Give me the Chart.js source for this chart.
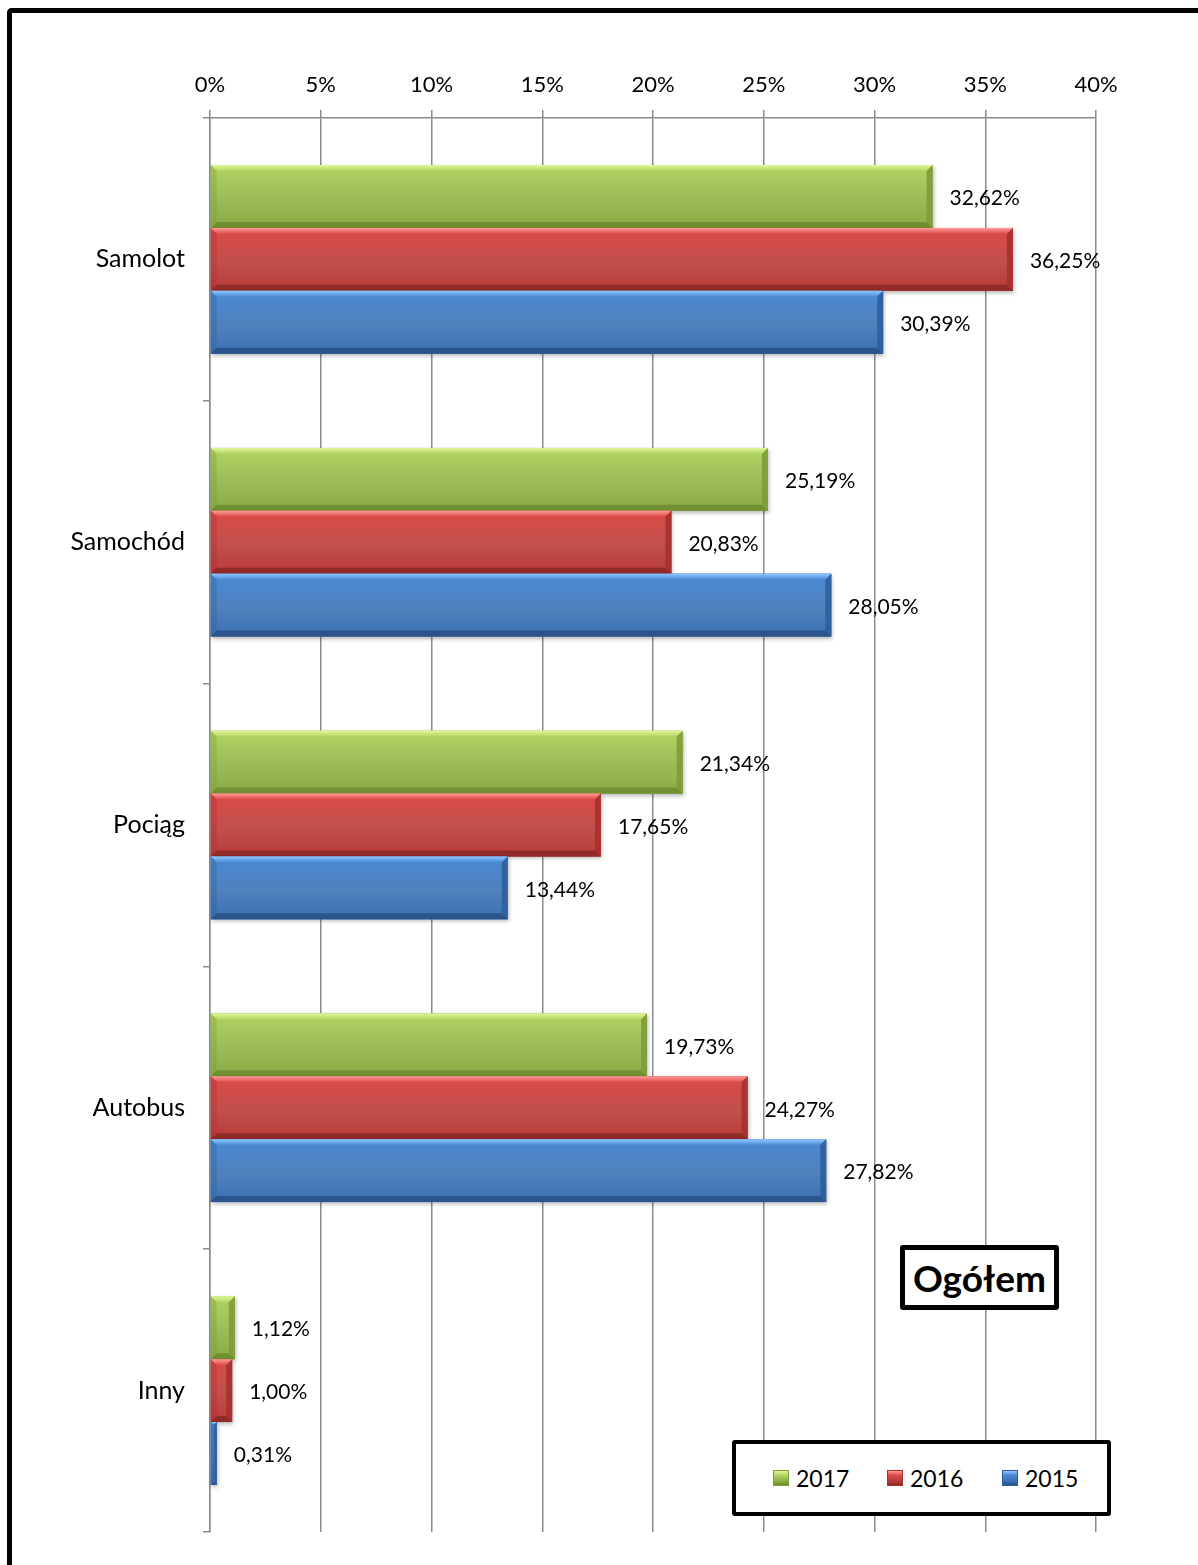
<!DOCTYPE html>
<html>
<head>
<meta charset="utf-8">
<script src="https://cdn.jsdelivr.net/npm/chart.js@4/dist/chart.umd.min.js"></script>
<style>
  html, body { margin: 0; padding: 0; background: #fff; overflow: hidden; }
  #wrap { position: relative; width: 1198px; height: 1565px; overflow: hidden; }
  #frame { position: absolute; left: 7px; top: 8px; width: 1300px; height: 1700px;
           border-left: 5px solid #000; border-top: 5px solid #000; border-radius: 5px 0 0 0; box-sizing: border-box; }
  canvas { position: absolute; left: 0; top: 0; }
  #title { position: absolute; left: 900px; top: 1245px; width: 159px; height: 65px; box-sizing: border-box;
           border: 5px solid #000; border-radius: 3px; background: #fff;
           font-family: Lato, "Open Sans", sans-serif; font-weight: bold; font-size: 37px; color: #000;
           display: flex; align-items: center; justify-content: center; }
  #legend { position: absolute; left: 732px; top: 1440px; width: 379px; height: 76px; box-sizing: border-box;
            border: 4px solid #000; border-radius: 3px; background: #fff;
            font-family: Lato, "Open Sans", sans-serif; font-size: 23px; color: #000; }
  .item { position: absolute; top: 0; height: 68px; display: flex; align-items: center; }
  .sw { width: 16px; height: 16px; margin-right: 7px; box-sizing: border-box; }
</style>
</head>
<body>
<div id="wrap">
  <canvas id="c" width="1198" height="1565"></canvas>
  <div id="frame"></div>
  <div id="title">Ogółem</div>
  <div id="legend"></div>
</div>
<script>
// ---- data ----
const categories = ['Samolot', 'Samochód', 'Pociąg', 'Autobus', 'Inny'];
const seriesNames = ['2017', '2016', '2015'];
const values2017 = [32.62, 25.19, 21.34, 19.73, 1.12];
const values2016 = [36.25, 20.83, 17.65, 24.27, 1.00];
const values2015 = [30.39, 28.05, 13.44, 27.82, 0.31];
const axisMin = 0, axisMax = 40, axisStep = 5;

// ---- styles ----
const palettes = [
  { mid: '#9bbb59', light: '#e2f79a', top: '#b2d460', bottom: '#8aab42', dark: '#6c8a30', side: '#7e9c3a' },
  { mid: '#c0504d', light: '#ff9c9a', top: '#dc4a47', bottom: '#b83a37', dark: '#8a2826', side: '#a5312f' },
  { mid: '#4f81bd', light: '#90c8ff', top: '#4a8ad6', bottom: '#3a70b3', dark: '#284f82', side: '#2f5f9c' }
];
const FONT = 'Lato, "Open Sans", sans-serif';

const seriesValues = [values2017, values2016, values2015];

// legend
const legend = document.getElementById('legend');
const legendX = [37, 151, 266];
seriesNames.forEach((n, i) => {
  const p = palettes[i];
  const it = document.createElement('div');
  it.className = 'item';
  it.style.left = legendX[i] + 'px';
  const sw = document.createElement('div');
  sw.className = 'sw';
  sw.style.background = `linear-gradient(to bottom, ${p.light} 0%, ${p.top} 30%, ${p.bottom} 75%, ${p.dark} 100%)`;
  sw.style.border = '1px solid ' + p.side;
  it.appendChild(sw);
  const t = document.createElement('span');
  t.textContent = n;
  it.appendChild(t);
  legend.appendChild(it);
});

const bevelPlugin = {
  id: 'bevel',
  afterDatasetsDraw(chart) {
    const ctx = chart.ctx;
    ctx.save();
    chart.data.datasets.forEach((ds, di) => {
      const meta = chart.getDatasetMeta(di);
      const p = palettes[di];
      meta.data.forEach((el) => {
        const pr = el.getProps(['x', 'y', 'base', 'height'], true);
        const x0 = Math.min(pr.base, pr.x), x1 = Math.max(pr.base, pr.x);
        const y0 = pr.y - pr.height / 2, y1 = pr.y + pr.height / 2;
        const w = x1 - x0, h = y1 - y0;
        if (w <= 0) return;
        const b = Math.min(6, w / 2, h / 2);
        ctx.save();
        ctx.shadowColor = 'rgba(0,0,0,0.28)';
        ctx.shadowBlur = 4;
        ctx.shadowOffsetX = 1;
        ctx.shadowOffsetY = 2;
        const g = ctx.createLinearGradient(0, y0, 0, y1);
        g.addColorStop(0, p.top);
        g.addColorStop(0.55, p.mid);
        g.addColorStop(1, p.bottom);
        ctx.fillStyle = g;
        ctx.fillRect(x0, y0, w, h);
        ctx.restore();
        const gt = ctx.createLinearGradient(0, y0, 0, y0 + b);
        gt.addColorStop(0, p.light);
        gt.addColorStop(1, p.top);
        ctx.fillStyle = gt;
        ctx.beginPath();
        ctx.moveTo(x0, y0); ctx.lineTo(x1, y0); ctx.lineTo(x1 - b, y0 + b); ctx.lineTo(x0 + b, y0 + b);
        ctx.closePath(); ctx.fill();
        ctx.fillStyle = p.dark;
        ctx.globalAlpha = 0.85;
        ctx.beginPath();
        ctx.moveTo(x0, y1); ctx.lineTo(x1, y1); ctx.lineTo(x1 - b, y1 - b); ctx.lineTo(x0 + b, y1 - b);
        ctx.closePath(); ctx.fill();
        ctx.fillStyle = p.side;
        ctx.globalAlpha = 0.9;
        ctx.beginPath();
        ctx.moveTo(x1, y0); ctx.lineTo(x1, y1); ctx.lineTo(x1 - b, y1 - b); ctx.lineTo(x1 - b, y0 + b);
        ctx.closePath(); ctx.fill();
        ctx.fillStyle = p.side;
        ctx.globalAlpha = 0.35;
        ctx.beginPath();
        ctx.moveTo(x0, y0); ctx.lineTo(x0, y1); ctx.lineTo(x0 + b, y1 - b); ctx.lineTo(x0 + b, y0 + b);
        ctx.closePath(); ctx.fill();
        ctx.globalAlpha = 1;
      });
    });
    // data labels
    ctx.fillStyle = '#000';
    ctx.font = '21px ' + FONT;
    ctx.textAlign = 'left';
    ctx.textBaseline = 'middle';
    chart.data.datasets.forEach((ds, di) => {
      const meta = chart.getDatasetMeta(di);
      meta.data.forEach((el, i) => {
        const pr = el.getProps(['x', 'y'], true);
        const txt = ds.data[i].toFixed(2).replace('.', ',') + '%';
        ctx.fillText(txt, pr.x + 17, pr.y + 2);
      });
    });
    ctx.restore();
  }
};

const PAD = { left: 0, right: 102, top: 0, bottom: 30 };

new Chart(document.getElementById('c'), {
  type: 'bar',
  data: {
    labels: categories,
    datasets: seriesNames.map((n, i) => ({
      label: n,
      data: seriesValues[i],
      backgroundColor: palettes[i].mid,
      borderWidth: 0,
      categoryPercentage: 0.667,
      barPercentage: 1.0
    }))
  },
  options: {
    indexAxis: 'y',
    responsive: false,
    animation: false,
    devicePixelRatio: 1,
    layout: { padding: PAD },
    plugins: { legend: { display: false }, tooltip: { enabled: false } },
    scales: {
      x: {
        position: 'top',
        min: axisMin, max: axisMax,
        ticks: {
          stepSize: axisStep,
          callback: v => v + '%',
          color: '#000',
          font: { family: FONT, size: 22 },
          padding: 12
        },
        grid: { color: '#8c8c8c', lineWidth: 1.5, tickLength: 8, drawTicks: true },
        border: { color: '#8c8c8c', width: 1.5 },
        afterFit: s => { s.height = 118 - PAD.top; }
      },
      y: {
        ticks: {
          color: '#000',
          font: { family: FONT, size: 25 },
          padding: 18
        },
        grid: { offset: true, drawOnChartArea: false, color: '#8c8c8c', lineWidth: 1.5, tickLength: 7 },
        border: { color: '#8c8c8c', width: 1.5 },
        afterFit: s => { s.width = 210 - PAD.left; }
      }
    }
  },
  plugins: [bevelPlugin]
});
</script>
</body>
</html>
